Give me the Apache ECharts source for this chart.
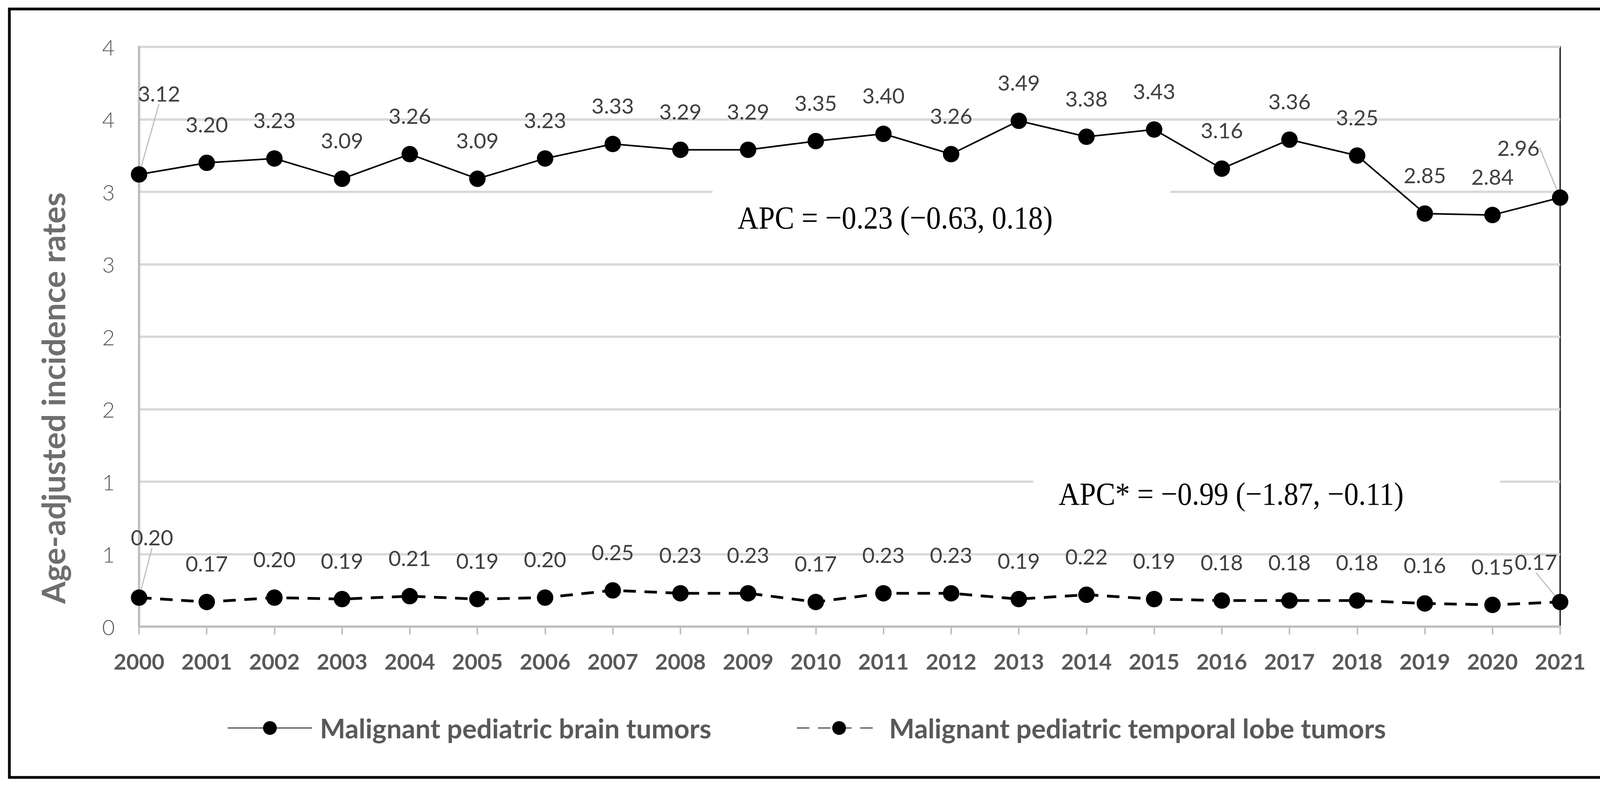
<!DOCTYPE html>
<html>
<head>
<meta charset="utf-8">
<title>Age-adjusted incidence rates 2000-2021</title>
<script src="https://cdn.jsdelivr.net/npm/echarts@6/dist/echarts.min.js"></script>
<style>
html, body { margin: 0; padding: 0; background: #fff; }
#chart-1 { width: 4187px; height: 2012px; }
</style>
</head>
<body>
<div id="chart-1"></div>
<script>
// data
var years = ['2000', '2001', '2002', '2003', '2004', '2005', '2006', '2007', '2008', '2009', '2010',
             '2011', '2012', '2013', '2014', '2015', '2016', '2017', '2018', '2019', '2020', '2021'];
var brainRates = [3.12, 3.20, 3.23, 3.09, 3.26, 3.09, 3.23, 3.33, 3.29, 3.29, 3.35,
                  3.40, 3.26, 3.49, 3.38, 3.43, 3.16, 3.36, 3.25, 2.85, 2.84, 2.96];
var temporalRates = [0.20, 0.17, 0.20, 0.19, 0.21, 0.19, 0.20, 0.25, 0.23, 0.23, 0.17,
                     0.23, 0.23, 0.19, 0.22, 0.19, 0.18, 0.18, 0.18, 0.16, 0.15, 0.17];
var seriesNames = ['Malignant pediatric brain tumors', 'Malignant pediatric temporal lobe tumors'];
// excel shows the 0.5 steps rounded to whole numbers
var yTickLabels = ['0', '1', '1', '2', '2', '3', '3', '4', '4'];
var apcNotes = ['APC = \u22120.23 (\u22120.63, 0.18)', 'APC* = \u22120.99 (\u22121.87, \u22120.11)'];

var sans = 'Lato';
var last = years.length - 1;

// first and last points get a leader line like in the original
function withGuides(values) {
    return values.map(function (v, i) {
        if (i === 0 || i === last) {
            return { value: v, labelLine: { show: true, lineStyle: { color: '#bfbfbf', width: 3 } } };
        }
        return v;
    });
}
function moveEnds(first, end) {
    return function (p) {
        if (p.dataIndex === 0) return { dx: first[0], dy: first[1] };
        if (p.dataIndex === last) return { dx: end[0], dy: end[1] };
        return {};
    };
}

var dataLabel = {
    show: true,
    position: 'top',
    distance: 50,
    formatter: function (p) { return Number(p.value).toFixed(2); },
    fontFamily: sans,
    fontSize: 55,
    color: '#404040'
};

var myChart = echarts.init(document.getElementById('chart-1'), null, { renderer: 'svg' });
var option = {
    animation: false,
    backgroundColor: '#fff',
    grid: {
        left: 356,
        right: 193,
        top: 120,
        bottom: 408,
        show: true,
        borderColor: '#333',
        borderWidth: 4
    },
    legend: {
        left: 577,
        top: 1824,
        itemWidth: 216,
        itemHeight: 44,
        itemGap: 218,
        textStyle: {
            fontFamily: sans,
            fontWeight: 'bold',
            fontSize: 69,
            color: '#595959',
            padding: [0, 0, 0, 15]
        },
        data: seriesNames
    },
    xAxis: {
        type: 'category',
        data: years,
        boundaryGap: false,
        axisLine: { lineStyle: { color: '#bfbfbf', width: 6 } },
        axisTick: { show: true, length: 20, lineStyle: { color: '#bfbfbf', width: 4 } },
        axisLabel: {
            interval: 0,
            margin: 60,
            fontFamily: sans,
            fontWeight: 'bold',
            fontSize: 56,
            color: '#595959'
        },
        splitLine: { show: false }
    },
    yAxis: {
        type: 'value',
        min: 0,
        max: 4,
        interval: 0.5,
        name: 'Age-adjusted incidence rates',
        nameLocation: 'middle',
        nameGap: 180,
        nameTextStyle: {
            fontFamily: sans,
            fontWeight: 'bold',
            fontSize: 82,
            color: '#6e6e6e',
            padding: [0, 314, 0, 0]
        },
        axisLine: { show: true, lineStyle: { color: '#bfbfbf', width: 6 } },
        axisTick: { show: false },
        axisLabel: {
            margin: 62,
            fontFamily: sans,
            fontWeight: 300,
            fontSize: 56,
            color: '#595959',
            formatter: function (v) { return yTickLabels[Math.round(v / 0.5)]; }
        },
        splitLine: { lineStyle: { color: '#d9d9d9', width: 6 } }
    },
    series: [
        {
            name: seriesNames[0],
            type: 'line',
            data: withGuides(brainRates),
            symbol: 'circle',
            symbolSize: 42,
            itemStyle: { color: '#000' },
            lineStyle: { color: '#000', width: 4 },
            label: dataLabel,
            labelLayout: moveEnds([51, -109], [-107, -29]),
            z: 3
        },
        {
            name: seriesNames[1],
            type: 'line',
            data: withGuides(temporalRates),
            symbol: 'circle',
            symbolSize: 42,
            itemStyle: { color: '#000' },
            lineStyle: { color: '#000', width: 7, type: [32, 22] },
            label: dataLabel,
            labelLayout: moveEnds([33, -56], [-62, -4]),
            z: 3
        }
    ],
    graphic: [
        // outer frame
        {
            type: 'rect',
            z: 100,
            shape: { x: 24, y: 23, width: 4133, height: 1967 },
            style: { fill: 'none', stroke: '#000', lineWidth: 7 }
        },
        // text boxes with white fill, they hide part of the gridlines
        {
            type: 'rect',
            z: 50,
            shape: { x: 1824, y: 455, width: 1172, height: 190 },
            style: { fill: '#fff' }
        },
        {
            type: 'text',
            z: 51,
            x: 1888,
            y: 557,
            scaleX: 0.9,
            style: {
                text: apcNotes[0],
                fontFamily: 'Liberation Serif',
                fontSize: 83,
                fill: '#000',
                textAlign: 'left',
                textVerticalAlign: 'middle'
            }
        },
        {
            type: 'rect',
            z: 50,
            shape: { x: 2645, y: 1180, width: 1195, height: 170 },
            style: { fill: '#fff' }
        },
        {
            type: 'text',
            z: 51,
            x: 2710,
            y: 1264,
            scaleX: 0.9,
            style: {
                text: apcNotes[1],
                fontFamily: 'Liberation Serif',
                fontSize: 83,
                fill: '#000',
                textAlign: 'left',
                textVerticalAlign: 'middle'
            }
        }
    ]
};
myChart.setOption(option);
</script>
</body>
</html>
